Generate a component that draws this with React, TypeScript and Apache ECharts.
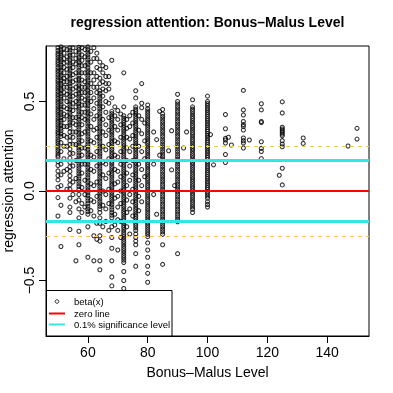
import React, { useEffect, useRef } from "react";
import * as echarts from "echarts";

// ---- data ----
const col50 = [0.80,0.785,0.77,0.758,0.745,0.73,0.718,0.705,0.69,0.676,0.664,0.65,0.637,0.622,0.61,0.596,0.583,0.57,0.556,0.542,0.53,0.517,0.503,0.49,0.476,0.463,0.45,0.437,0.424,0.41,0.397,0.384,0.37,0.357,0.343,0.33,0.318,0.305,0.29,0.278,0.265,0.252,0.24,0.226,0.213,0.2,0.19,0.165,0.142,0.112,0.086,0.062,0.021,-0.037,-0.14];
const col51 = [0.805,0.79,0.776,0.76,0.747,0.733,0.72,0.704,0.69,0.675,0.66,0.646,0.632,0.617,0.602,0.588,0.574,0.56,0.545,0.53,0.514,0.5,0.486,0.47,0.456,0.44,0.426,0.41,0.395,0.38,0.366,0.35,0.336,0.32,0.305,0.27,0.22,0.15,0.09,0.03,-0.08,-0.31];
const col52 = [0.795,0.77,0.74,0.715,0.69,0.66,0.63,0.61,0.58,0.55,0.52,0.47,0.43,0.40,0.36,0.31,0.25,0.18,0.11];
const col53 = [0.79,0.75,0.72,0.68,0.64,0.61,0.58,0.54,0.50,0.46,0.42,0.36,0.30,0.25,0.12,0.01];
const col54 = [0.80,0.787,0.772,0.758,0.743,0.73,0.715,0.7,0.686,0.672,0.657,0.643,0.628,0.614,0.6,0.585,0.57,0.556,0.542,0.528,0.513,0.498,0.484,0.47,0.455,0.44,0.426,0.412,0.397,0.383,0.368,0.353,0.33,0.305,0.28,0.26,0.235,0.21,0.185,0.16,0.135,0.11,0.085,0.06,0.035,0.01,-0.04,-0.09,-0.12,-0.215];
const col55 = [0.80,0.76,0.72,0.69,0.65,0.61,0.57,0.53,0.49,0.45,0.41,0.38,0.33,0.30,0.26,0.21,0.14,0.05,-0.02];
const col56 = [0.78,0.74,0.71,0.66,0.62,0.58,0.54,0.50,0.47,0.41,0.37,0.33,0.26,0.17,0.07,-0.06,-0.39];
const col57 = [0.803,0.79,0.775,0.76,0.746,0.732,0.718,0.703,0.688,0.674,0.66,0.645,0.63,0.617,0.602,0.588,0.573,0.56,0.545,0.53,0.516,0.502,0.488,0.473,0.458,0.444,0.43,0.415,0.4,0.386,0.372,0.357,0.343,0.328,0.314,0.3,0.285,0.27,0.256,0.242,0.228,0.213,0.198,0.184,0.17,0.155,0.14,0.126,0.112,0.097,0.083,0.068,0.054,0.04,0.025,0.01,-0.02,-0.05,-0.1,-0.15,-0.225,-0.30];
const col58 = [0.80,0.76,0.73,0.70,0.66,0.62,0.58,0.55,0.52,0.48,0.44,0.41,0.37,0.32,0.28,0.24,0.20,0.15,0.10,0.02,-0.07,-0.12];
const col59 = [0.79,0.75,0.70,0.66,0.61,0.58,0.55,0.51,0.48,0.44,0.40,0.33,0.24,0.15,0.06,-0.02,-0.09];
const col60 = [0.805,0.79,0.776,0.762,0.748,0.733,0.719,0.705,0.69,0.676,0.662,0.647,0.633,0.619,0.604,0.59,0.576,0.562,0.547,0.533,0.519,0.504,0.49,0.476,0.461,0.447,0.433,0.418,0.404,0.39,0.376,0.361,0.347,0.333,0.318,0.304,0.29,0.275,0.261,0.247,0.232,0.218,0.204,0.19,0.175,0.161,0.147,0.132,0.118,0.104,0.09,0.075,0.061,0.047,0.032,0.018,0.004,-0.01,-0.025,-0.04,-0.055,-0.07,-0.085,-0.1,-0.115,-0.13,-0.2,-0.37];
const col61 = [0.78,0.72,0.66,0.60,0.55,0.50,0.43,0.36,0.28,0.20,0.12,0.04,-0.05,-0.11];
const col62 = [0.80,0.74,0.66,0.62,0.58,0.52,0.46,0.40,0.34,0.27,0.19,0.11,0.03,-0.06,-0.14,-0.25,-0.39];
const col63 = [0.77,0.74,0.69,0.64,0.58,0.55,0.49,0.42,0.35,0.30,0.22,0.14,0.05,-0.03,-0.18,-0.27];
const col64 = [0.72,0.68,0.63,0.60,0.56,0.545,0.53,0.516,0.502,0.488,0.474,0.46,0.446,0.432,0.418,0.404,0.39,0.376,0.362,0.348,0.334,0.32,0.306,0.292,0.278,0.264,0.25,0.236,0.222,0.208,0.194,0.18,0.166,0.152,0.138,0.124,0.11,0.096,0.082,0.068,0.054,0.04,0.026,0.012,-0.002,-0.016,-0.03,-0.044,-0.058,-0.072,-0.086,-0.1,-0.12,-0.15,-0.18,-0.25,-0.28,-0.39,-0.44];
const col65 = [0.70,0.66,0.61,0.57,0.53,0.47,0.40,0.33,0.25,0.16,0.09,0.0,-0.08,-0.2];
const col66 = [0.69,0.64,0.60,0.56,0.50,0.44,0.37,0.31,0.23,0.15,0.07,-0.02,-0.1,-0.17];
const col67 = [0.64,0.60,0.57,0.49,0.41,0.34,0.26,0.18,0.10,0.01,-0.07,-0.22];
const col68 = [0.73,0.52,0.445,0.432,0.418,0.405,0.392,0.378,0.365,0.352,0.338,0.325,0.312,0.298,0.285,0.272,0.258,0.245,0.232,0.218,0.205,0.192,0.178,0.165,0.152,0.138,0.125,0.112,0.098,0.085,0.072,0.058,0.045,0.032,0.018,0.005,-0.008,-0.022,-0.035,-0.048,-0.062,-0.075,-0.09,-0.105,-0.12,-0.135,-0.15,-0.2,-0.26,-0.32,-0.39,-0.48,-0.53];
const col69 = [0.47,0.42,0.36,0.28,0.20,0.12,0.04,-0.04,-0.13,-0.19];
const col70 = [0.45,0.40,0.34,0.27,0.19,0.11,0.05,-0.03,-0.09,-0.16,-0.22,-0.33];
const col71 = [0.43,0.37,0.30,0.22,0.15,0.08,0.0,-0.07,-0.17,-0.26];
const col72 = [0.66,0.47,0.42,0.407,0.394,0.381,0.368,0.355,0.342,0.329,0.316,0.303,0.29,0.277,0.264,0.251,0.238,0.225,0.212,0.199,0.186,0.173,0.16,0.147,0.134,0.121,0.108,0.095,0.082,0.069,0.056,0.043,0.03,0.017,0.004,-0.009,-0.022,-0.035,-0.048,-0.061,-0.074,-0.087,-0.1,-0.113,-0.126,-0.139,-0.152,-0.165,-0.178,-0.191,-0.204,-0.217,-0.23,-0.243,-0.256,-0.269,-0.282,-0.295,-0.308,-0.321,-0.334,-0.347,-0.36,-0.373,-0.386,-0.4,-0.45,-0.5,-0.545];
const col73 = [0.40,0.35,0.30,0.24,0.17,0.10,0.03,-0.05,-0.12,-0.2];
const col74 = [0.42,0.36,0.29,0.22,0.14,0.06,-0.02,-0.1,-0.24];
const col75 = [0.44,0.38,0.31,0.25,0.17,0.09,0.01,-0.06,-0.14];
const col76 = [0.56,0.52,0.47,0.457,0.444,0.431,0.418,0.405,0.392,0.379,0.366,0.353,0.34,0.327,0.314,0.301,0.288,0.275,0.262,0.249,0.236,0.223,0.21,0.197,0.184,0.171,0.158,0.145,0.132,0.119,0.106,0.093,0.08,0.067,0.054,0.041,0.028,0.015,0.002,-0.011,-0.024,-0.037,-0.05,-0.063,-0.076,-0.089,-0.102,-0.115,-0.128,-0.141,-0.154,-0.167,-0.18,-0.193,-0.206,-0.22,-0.24,-0.26,-0.28,-0.3,-0.35,-0.42];
const col77 = [0.42,0.34,0.25,0.15,0.06,-0.03,-0.11];
const col78 = [0.60,0.49,0.465,0.40,0.32,0.22,0.12,0.03,-0.06];
const col79 = [0.38,0.28,0.18,0.08];
const col80 = [0.48,0.46,0.447,0.434,0.421,0.408,0.395,0.382,0.369,0.356,0.343,0.33,0.317,0.304,0.291,0.278,0.265,0.252,0.239,0.226,0.213,0.2,0.187,0.174,0.161,0.148,0.135,0.122,0.109,0.096,0.083,0.07,0.057,0.044,0.031,0.018,0.005,-0.008,-0.021,-0.034,-0.047,-0.06,-0.073,-0.086,-0.099,-0.112,-0.125,-0.138,-0.151,-0.164,-0.177,-0.19,-0.203,-0.216,-0.229,-0.242,-0.255,-0.29,-0.33,-0.37,-0.42,-0.46,-0.51];
const col82 = [0.33,0.15,-0.02];
const col83 = [0.287,-0.13];
const col84 = [0.445,0.2];
const col85 = [0.455,0.43,0.416,0.402,0.388,0.374,0.36,0.346,0.332,0.318,0.304,0.29,0.276,0.262,0.248,0.234,0.22,0.206,0.192,0.178,0.164,0.15,0.136,0.122,0.108,0.094,0.08,0.066,0.052,0.038,0.024,0.01,-0.004,-0.018,-0.032,-0.046,-0.06,-0.074,-0.088,-0.102,-0.116,-0.13,-0.144,-0.158,-0.172,-0.186,-0.2,-0.214,-0.228,-0.242,-0.3,-0.41];
const col87 = [0.225];
const col88 = [0.337,0.118];
const col89 = [0.03];
const col90 = [0.54,0.50,0.486,0.472,0.458,0.444,0.43,0.416,0.402,0.388,0.374,0.36,0.346,0.332,0.318,0.304,0.29,0.276,0.262,0.248,0.234,0.22,0.206,0.192,0.178,0.164,0.15,0.136,0.122,0.108,0.094,0.08,0.066,0.052,0.038,0.024,0.01,-0.004,-0.018,-0.032,-0.046,-0.06,-0.074,-0.088,-0.102,-0.116,-0.13,-0.144,-0.158,-0.172,-0.35];
const col92 = [0.24];
const col93 = [0.33];
const col95 = [0.51,0.47,0.457,0.444,0.431,0.418,0.405,0.392,0.379,0.366,0.353,0.34,0.327,0.314,0.301,0.288,0.275,0.262,0.249,0.236,0.223,0.21,0.197,0.184,0.171,0.158,0.145,0.132,0.119,0.106,0.093,0.08,0.067,0.054,0.041,0.028,0.015,0.002,-0.011,-0.024,-0.037,-0.05,-0.063,-0.076,-0.089,-0.102,-0.12];
const col100 = [0.53,0.50,0.488,0.476,0.464,0.452,0.44,0.428,0.416,0.404,0.392,0.38,0.368,0.356,0.344,0.332,0.32,0.308,0.296,0.284,0.272,0.26,0.248,0.236,0.224,0.212,0.2,0.188,0.176,0.164,0.152,0.14,0.128,0.116,0.104,0.092,0.08,0.068,0.056,0.044,0.032,0.02,0.008,-0.004,-0.016,-0.028,-0.04,-0.06,-0.075,-0.09];
const col101 = [0.315];
const col102 = [0.146];
const col106 = [0.427,0.348,0.294,0.285,0.268,0.204,0.159];
const col107 = [0.30];
const col108 = [0.257];
const col112 = [0.562,0.453,0.425,0.388,0.371,0.361,0.341,0.296,0.281,0.268,0.24];
const col114 = [0.285];
const col118 = [0.487,0.453,0.388,0.382,0.275,0.238,0.221,0.181];
const col124 = [0.088];
const col125 = [0.498,0.436,0.356,0.346,0.337,0.328,0.318,0.309,0.281,0.262,0.247,0.127,0.034];
const col132 = [0.296,0.266];
const col147 = [0.251];
const col150 = [0.35,0.29];

const levelColumns: [number, number[]][] = [
  [50, col50], [51, col51], [52, col52], [53, col53], [54, col54], [55, col55], [56, col56],
  [57, col57], [58, col58], [59, col59], [60, col60], [61, col61], [62, col62], [63, col63],
  [64, col64], [65, col65], [66, col66], [67, col67], [68, col68], [69, col69], [70, col70],
  [71, col71], [72, col72], [73, col73], [74, col74], [75, col75], [76, col76], [77, col77],
  [78, col78], [79, col79], [80, col80], [82, col82], [83, col83], [84, col84], [85, col85],
  [87, col87], [88, col88], [89, col89], [90, col90], [92, col92], [93, col93], [95, col95],
  [100, col100], [101, col101], [102, col102], [106, col106], [107, col107], [108, col108],
  [112, col112], [114, col114], [118, col118], [124, col124], [125, col125], [132, col132],
  [147, col147], [150, col150],
];

const xTicks = [60, 80, 100, 120, 140];
const yTicks = [-0.5, 0, 0.5];
const yTickLabels = ["\u22120.5", "0.0", "0.5"];
const zeroLevel = 0;
const significanceLevel = 0.175;
const dashedLevel = 0.25;

const FONT = "'Liberation Sans', Arial, Helvetica, sans-serif";

export default function App() {
  const ref = useRef<HTMLDivElement>(null);
  useEffect(() => {
    if (!ref.current) return;
    const chart = echarts.init(ref.current, null, { renderer: "svg" });
    const points: [number, number][] = [];
    levelColumns.forEach(([lvl, vals]) => vals.forEach((v) => points.push([lvl, v])));

    chart.setOption({
      animation: false,
      grid: {
        left: 46, right: 24, top: 46, bottom: 57,
        outerBoundsMode: "none",
        containLabel: false,
        show: true, borderColor: "#000", borderWidth: 1, backgroundColor: "transparent",
      },
      xAxis: {
        type: "value", min: 46, max: 154,
        splitLine: { show: false },
        axisLine: { show: true, onZero: false, lineStyle: { color: "#000", width: 1 } },
        axisTick: { show: true, customValues: xTicks, length: 7, lineStyle: { color: "#000" } },
        axisLabel: { customValues: xTicks, margin: 9, fontSize: 14, color: "#000", fontFamily: FONT },
        name: "Bonus\u2013Malus Level", nameLocation: "middle", nameGap: 29, nameMoveOverlap: false,
        nameTextStyle: { fontSize: 14, color: "#000", fontFamily: FONT },
      },
      yAxis: {
        type: "value", min: -0.81, max: 0.81,
        splitLine: { show: false },
        axisLine: { show: true, onZero: false, lineStyle: { color: "#000", width: 1 } },
        axisTick: { show: true, customValues: yTicks, length: 7, lineStyle: { color: "#000" } },
        axisLabel: {
          customValues: yTicks, rotate: 90, margin: 10, fontSize: 14, color: "#000", fontFamily: FONT,
          formatter: (v: number) => yTickLabels[yTicks.findIndex((t) => Math.abs(t - v) < 1e-9)] ?? String(v),
        },
        name: "regression attention", nameLocation: "middle", nameGap: 31, nameRotate: 90,
        nameMoveOverlap: false,
        nameTextStyle: { fontSize: 14, color: "#000", fontFamily: FONT },
      },
      series: [
        {
          type: "scatter",
          name: "beta(x)",
          data: points,
          clip: true,
          symbol: "circle",
          symbolSize: 4,
          itemStyle: { color: "transparent", borderColor: "#000", borderWidth: 1.1 },
          silent: true,
          markLine: {
            silent: true,
            symbol: "none",
            label: { show: false },
            data: [
              { yAxis: dashedLevel, lineStyle: { color: "#F9C46B", width: 1, type: [4, 4] } },
              { yAxis: -dashedLevel, lineStyle: { color: "#F9C46B", width: 1, type: [4, 4] } },
              { yAxis: zeroLevel, lineStyle: { color: "#FF0000", width: 2, type: "solid" } },
              { yAxis: significanceLevel, lineStyle: { color: "#33E6E6", width: 3, type: "solid" } },
              { yAxis: -significanceLevel, lineStyle: { color: "#33E6E6", width: 3, type: "solid" } },
            ],
          },
        },
      ],
      graphic: [
        {
          type: "text", x: 207.5, y: 22, z: 100,
          style: {
            text: "regression attention: Bonus\u2013Malus Level",
            font: `bold 14px ${FONT}`, fill: "#000", align: "center", verticalAlign: "middle",
          },
        },
        {
          type: "group", z: 100,
          children: [
            { type: "rect", shape: { x: 46.5, y: 290.5, width: 125.5, height: 45.5 }, style: { fill: "#fff", stroke: "#000", lineWidth: 1 } },
            { type: "circle", shape: { cx: 57, cy: 301.5, r: 1.8 }, style: { fill: "none", stroke: "#000", lineWidth: 0.8 } },
            { type: "text", x: 74, y: 301.5, style: { text: "beta(x)", font: `9.5px ${FONT}`, fill: "#000", verticalAlign: "middle" } },
            { type: "line", shape: { x1: 49, y1: 313.5, x2: 65, y2: 313.5 }, style: { stroke: "#FF0000", lineWidth: 2 } },
            { type: "text", x: 74, y: 313.5, style: { text: "zero line", font: `9.5px ${FONT}`, fill: "#000", verticalAlign: "middle" } },
            { type: "line", shape: { x1: 49, y1: 324.5, x2: 65, y2: 324.5 }, style: { stroke: "#33E6E6", lineWidth: 2 } },
            { type: "text", x: 74, y: 324.5, style: { text: "0.1% significance level", font: `9.5px ${FONT}`, fill: "#000", verticalAlign: "middle" } },
          ],
        },
      ],
    });
    return () => chart.dispose();
  }, []);
  return <div ref={ref} style={{ position: "fixed", left: 0, top: 0, width: 393, height: 393 }} />;
}
